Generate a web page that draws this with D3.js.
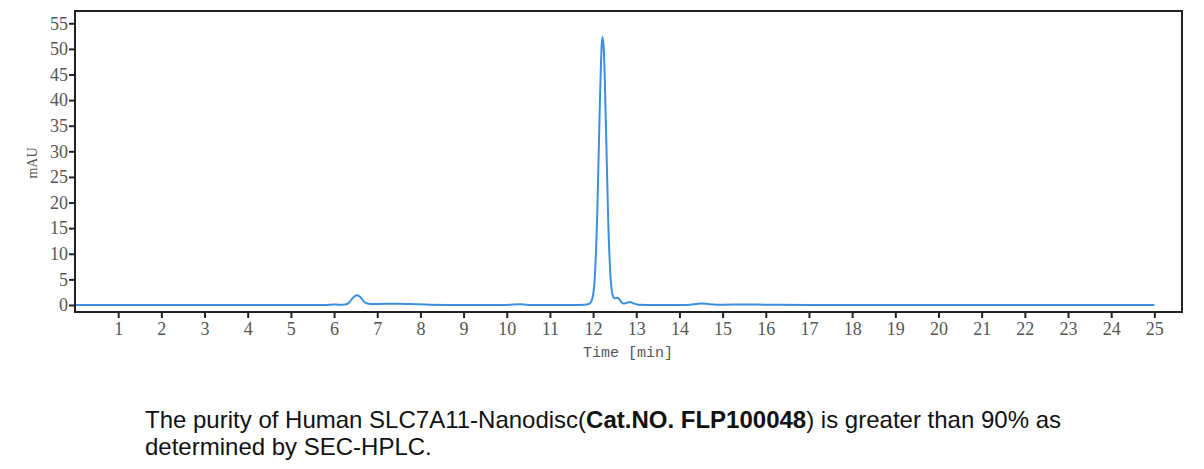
<!DOCTYPE html>
<html><head><meta charset="utf-8">
<script src="https://cdn.jsdelivr.net/npm/d3@7"></script>
<style>body{margin:0;background:#fff}svg{display:block}</style>
</head><body>
<svg id="c" width="1204" height="469"></svg>
<script>
// Retention time (min)
const times = [0, 1, 2, 3, 4, 5, 5.8, 6.0, 6.1, 6.2, 6.3, 6.35, 6.4, 6.45, 6.53, 6.6, 6.65, 6.7, 6.75, 6.85, 7.0, 7.5, 7.8, 8.2, 9, 10, 10.3, 10.5, 11, 11.5, 11.8, 11.9, 11.95, 12.0, 12.05, 12.1, 12.15, 12.2, 12.22, 12.25, 12.3, 12.35, 12.4, 12.45, 12.5, 12.55, 12.6, 12.65, 12.7, 12.75, 12.85, 12.95, 13.05, 13.5, 14, 14.3, 14.5, 14.7, 15, 15.5, 16, 17, 18, 19, 20, 21, 22, 23, 24, 25];
// Absorbance (mAU)
const absorb = [0.0, 0.0, 0.0, 0.0, 0.0, 0.0, 0.0, 0.1, 0.05, 0.05, 0.2, 0.5, 1.0, 1.5, 1.9, 1.6, 1.1, 0.6, 0.35, 0.2, 0.2, 0.25, 0.2, 0.05, 0.0, 0.0, 0.15, 0.0, 0.0, 0.0, 0.05, 0.2, 0.6, 1.9, 7.0, 19, 37, 50.8, 52.3, 49.5, 34, 16.5, 6, 2.0, 1.3, 1.4, 1.2, 0.6, 0.3, 0.35, 0.6, 0.3, 0.05, 0.0, 0.0, 0.1, 0.3, 0.15, 0.05, 0.1, 0.05, 0.0, 0.0, 0.0, 0.0, 0.0, 0.0, 0.0, 0.0, 0.0];
const xTicks = [1,2,3,4,5,6,7,8,9,10,11,12,13,14,15,16,17,18,19,20,21,22,23,24,25];
const yTicks = [0,5,10,15,20,25,30,35,40,45,50,55];
const xLabel = "Time [min]";
const yLabel = "mAU";

const svg = d3.select("#c");
const L = 75, T = 11, R = 1182, B = 312;
const x = d3.scaleLinear().domain([0, 25.64]).range([L, R]);
const y = d3.scaleLinear().domain([-1.37, 57.4]).range([B, T]);

const line = d3.line().x((d,i)=>x(times[i])).y(d=>y(d)).curve(d3.curveMonotoneX);
svg.append("path").attr("d", line(absorb)).attr("fill","none")
  .attr("stroke","#3a8fe3").attr("stroke-width",2);

svg.append("rect").attr("x",L).attr("y",T).attr("width",R-L).attr("height",B-T)
  .attr("fill","none").attr("stroke","#222").attr("stroke-width",2);

const xa = svg.append("g").attr("transform",`translate(0,${B})`)
  .call(d3.axisBottom(x).tickValues(xTicks).tickSize(6).tickPadding(4).tickFormat(d3.format("d")));
const ya = svg.append("g").attr("transform",`translate(${L},0)`)
  .call(d3.axisLeft(y).tickValues(yTicks).tickSize(6).tickPadding(1).tickFormat(d3.format("d")));
[xa, ya].forEach(a => {
  a.select(".domain").remove();
  a.selectAll(".tick line").attr("stroke","#222").attr("stroke-width",2);
  a.selectAll(".tick text").attr("fill","#555").style("font-family","Liberation Serif").style("font-size","18px");
});

svg.append("text").attr("x",628).attr("y",357).attr("text-anchor","middle")
  .style("font-family","Liberation Mono").style("font-size","15px").attr("fill","#555").text(xLabel);
svg.append("text").attr("transform","translate(37,163) rotate(-90)").attr("text-anchor","middle")
  .style("font-family","Liberation Serif").style("font-size","14px").attr("fill","#555").text(yLabel);

const cap = svg.append("text").attr("x",145).attr("y",428)
  .style("font-family","Liberation Sans, Arial").style("font-size","24px").attr("fill","#111");
cap.append("tspan").text("The purity of Human SLC7A11-Nanodisc(");
cap.append("tspan").style("font-weight","bold").text("Cat.NO. FLP100048");
cap.append("tspan").text(") is greater than 90% as");
svg.append("text").attr("x",145).attr("y",455)
  .style("font-family","Liberation Sans, Arial").style("font-size","24px").attr("fill","#111")
  .text("determined by SEC-HPLC.");
</script>
</body></html>
